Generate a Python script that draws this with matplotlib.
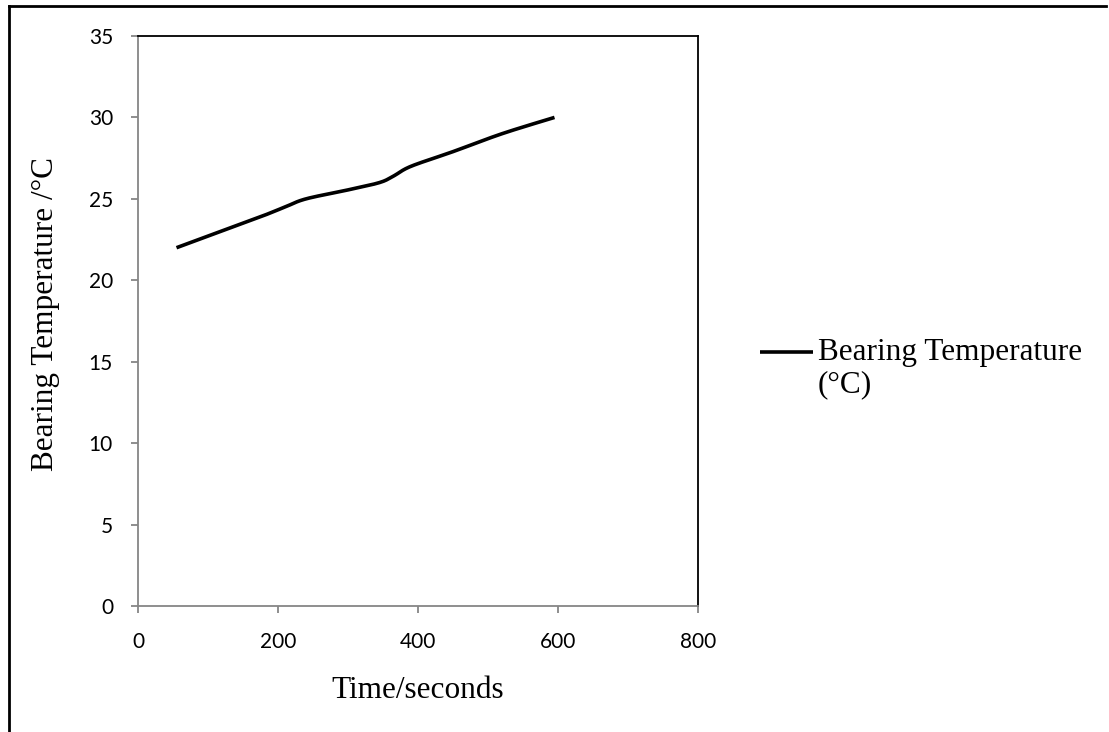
import numpy as np
import matplotlib
matplotlib.use("Agg")
import matplotlib.pyplot as plt
from matplotlib.lines import Line2D

# Data
time_s = [55, 115, 175, 210, 240, 300, 345, 365, 390, 450, 520, 595]
temp_c = [22.0, 22.95, 23.9, 24.5, 25.0, 25.55, 26.0, 26.4, 27.0, 27.9, 29.0, 30.0]
x_ticks = [0, 200, 400, 600, 800]
y_ticks = [0, 5, 10, 15, 20, 25, 30, 35]
series_name_lines = ["Bearing Temperature", "(°C)"]


def smooth(xs, ys, n=20):
    """Catmull-Rom style smoothing for drawing (like Excel's smoothed line)."""
    xs = np.asarray(xs, float)
    ys = np.asarray(ys, float)
    px = np.concatenate([[xs[0]], xs, [xs[-1]]])
    py = np.concatenate([[ys[0]], ys, [ys[-1]]])
    outx, outy = [], []
    t = np.linspace(0, 1, n)
    for i in range(1, len(px) - 2):
        p0x, p1x, p2x, p3x = px[i - 1], px[i], px[i + 1], px[i + 2]
        p0y, p1y, p2y, p3y = py[i - 1], py[i], py[i + 1], py[i + 2]
        c1x = p1x + (p2x - p0x) / 6
        c1y = p1y + (p2y - p0y) / 6
        c2x = p2x - (p3x - p1x) / 6
        c2y = p2y - (p3y - p1y) / 6
        bx = (1 - t) ** 3 * p1x + 3 * (1 - t) ** 2 * t * c1x + 3 * (1 - t) * t ** 2 * c2x + t ** 3 * p2x
        by = (1 - t) ** 3 * p1y + 3 * (1 - t) ** 2 * t * c1y + 3 * (1 - t) * t ** 2 * c2y + t ** 3 * p2y
        outx.extend(bx)
        outy.extend(by)
    return np.array(outx), np.array(outy)


W, H = 1109, 732
fig = plt.figure(figsize=(W / 100, H / 100), dpi=100)
ax = fig.add_axes([138 / W, (H - 606) / H, 560 / W, 570 / H])

sx, sy = smooth(time_s, temp_c)
ax.plot(sx, sy, color="black", lw=2.6, solid_capstyle="butt")

ax.set_xlim(0, 800)
ax.set_ylim(0, 35)
ax.set_xticks(x_ticks)
ax.set_yticks(y_ticks)

tick_font = dict(family=["Lato", "DejaVu Sans"], size=15)
ax.set_xticklabels([str(v) for v in x_ticks], **tick_font)
ax.set_yticklabels([str(v) for v in y_ticks], **tick_font)

gray = "#868686"
for s in ("left", "bottom"):
    ax.spines[s].set_color(gray)
    ax.spines[s].set_linewidth(1.3)
for s in ("top", "right"):
    ax.spines[s].set_color("black")
    ax.spines[s].set_linewidth(1.3)

ax.tick_params(axis="both", direction="out", length=5, width=1.3, color=gray,
               labelcolor="black")
ax.tick_params(axis="y", pad=13)
ax.tick_params(axis="x", pad=14)

serif = ["Liberation Serif", "DejaVu Serif"]
ax.set_xlabel("Time/seconds", family=serif, size=22.5)
ax.set_ylabel("Bearing Temperature /°C", family=serif, size=22.5)
ax.xaxis.set_label_coords(0.5, (606 - 676) / 570)
ax.yaxis.set_label_coords((60 - 138) / 560, 0.512)

# legend (handle aligned with the first text line, as in the reference)
fig.add_artist(Line2D([760 / W, 813 / W], [1 - 352 / H, 1 - 352 / H], color="black",
                      lw=2.6, solid_capstyle="butt", transform=fig.transFigure))
for i, line in enumerate(series_name_lines):
    fig.text(818 / W, 1 - (360 + 32 * i) / H, line, family=serif, size=22.5,
             ha="left", va="baseline", transform=fig.transFigure)

# figure border (left and top)
fig.add_artist(Line2D([9 / W, 9 / W], [0, 1 - 6 / H], color="black", lw=2,
                      transform=fig.transFigure))
fig.add_artist(Line2D([9 / W, 1106 / W], [1 - 6 / H, 1 - 6 / H], color="black", lw=2,
                      transform=fig.transFigure))

fig.savefig("out.png", dpi=100)
